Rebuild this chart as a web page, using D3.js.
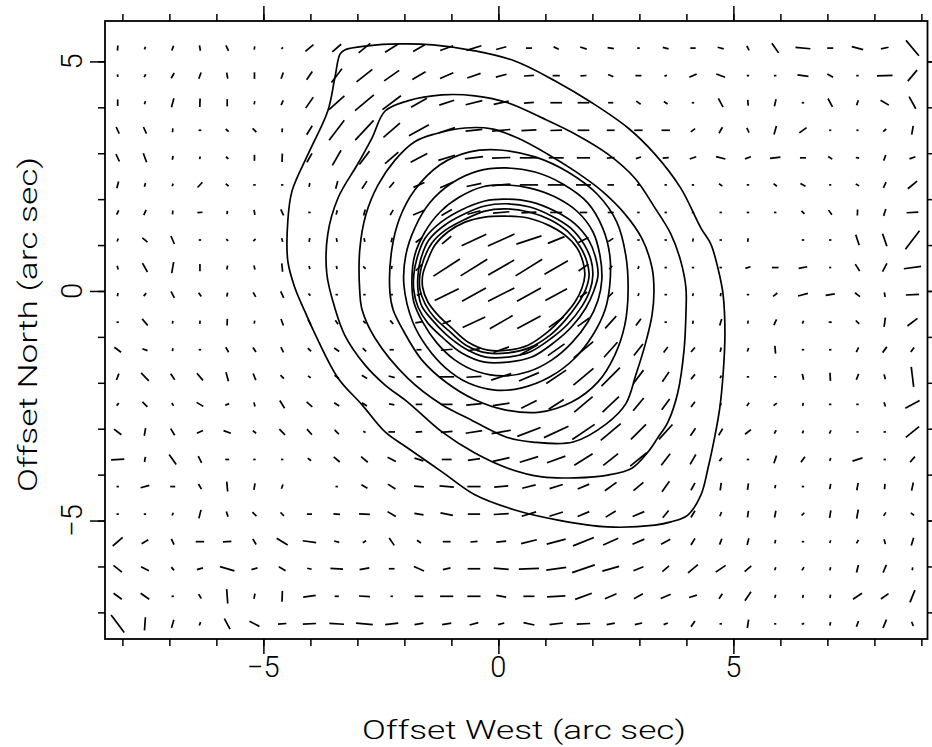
<!DOCTYPE html>
<html>
<head>
<meta charset="utf-8">
<script src="https://cdn.jsdelivr.net/npm/d3@7"></script>
<style>
  html, body { margin: 0; padding: 0; background: #fff; }
  svg { display: block; }
  text { font-family: Roboto, "Liberation Sans", sans-serif; font-weight: 300; fill: #000; }
</style>
</head>
<body>
<svg id="chart" width="932" height="747"></svg>
<script>
// sampling grid of the polarisation map (arc sec)
const colOffsets = [-8.10, -7.52, -6.93, -6.35, -5.77, -5.19, -4.60, -4.02, -3.44, -2.85,
  -2.27, -1.69, -1.10, -0.52, 0.06, 0.65, 1.23, 1.81, 2.39, 2.98,
  3.56, 4.14, 4.73, 5.31, 5.89, 6.48, 7.06, 7.64, 8.22, 8.81];
const rowOffsets = [5.29, 4.69, 4.10, 3.50, 2.90, 2.31, 1.71, 1.11, 0.51, -0.08, -0.68,
  -1.28, -1.87, -2.47, -3.07, -3.67, -4.26, -4.86, -5.46, -6.05, -6.65, -7.25];

// vector angle on the sky (deg, counter-clockwise from West axis), one row per rowOffset
const polAngle = [
  [85,70,70,-80,-65,80,45,40,41,39,32,30,20,17,15,0,-25,-18,-10,0,-15,0,-15,-65,-55,-5,0,-15,12,-50],
  [-80,60,60,70,-80,90,70,55,53,38,35,30,23,19,15,4,0,3,-25,0,20,25,-20,0,0,-7,-30,0,2,50],
  [90,75,75,88,90,80,65,55,42,40,37,30,18,14,12,5,0,0,0,-35,-35,0,-62,-85,77,0,-62,72,-30,-61],
  [-65,-65,85,0,-40,-45,85,58,53,47,41,29,18,6,5,3,2,0,0,0,0,37,60,-65,74,36,0,0,40,80],
  [-65,-70,80,75,-40,90,88,60,60,53,41,28,17,7,2,0,0,0,5,18,5,19,-14,20,7,0,-33,-10,70,20],
  [75,75,70,47,-40,0,0,80,75,57,50,24,23,12,5,0,0,0,0,0,0,0,-35,0,-38,-28,0,-30,65,40],
  [65,65,85,5,85,-80,-65,0,75,75,60,23,30,15,5,3,0,0,0,0,0,0,0,0,0,-45,-55,88,72,3],
  [70,-40,-67,0,-45,45,-75,80,-80,-80,75,37,40,25,24,18,22,27,33,0,0,80,0,80,0,0,0,-72,-71,53],
  [-75,-61,80,90,80,-75,-85,-75,-80,-45,80,45,33,32,30,32,30,35,50,70,0,0,0,18,0,11,0,-57,62,8],
  [80,50,-63,-55,80,-60,-65,-45,0,0,0,20,26,29,27,29,28,35,45,70,0,75,80,0,38,15,10,-38,-80,3],
  [0,-50,80,85,88,80,-70,-62,-55,-45,-50,10,20,25,30,28,35,35,48,53,0,80,73,80,65,70,0,-45,82,37],
  [-37,-20,80,0,-60,-55,-63,-42,-34,-45,0,0,5,10,20,30,35,40,48,52,53,50,78,70,-85,0,0,65,53,55],
  [70,-46,-56,-50,-75,-68,-45,-37,-37,-32,-15,0,0,3,18,23,34,40,45,53,56,51,70,0,0,-78,-87,68,-75,-83],
  [50,-45,-55,-31,22,-75,-58,-41,-34,-34,-10,0,0,6,9,27,33,40,43,50,54,53,75,55,38,80,0,0,-72,28],
  [-38,80,-59,24,-20,-38,-45,-48,-45,-30,0,5,5,9,10,21,25,34,40,45,48,56,59,38,60,70,63,0,0,39],
  [3,80,-55,-63,0,0,0,-38,-40,-40,-27,-17,0,8,13,17,20,32,38,39,52,60,51,0,71,55,70,18,0,49],
  [0,15,0,-60,-85,80,70,0,0,-30,-33,-4,-5,0,5,14,17,23,36,40,55,61,82,82,75,0,80,80,85,78],
  [0,0,70,76,-72,-45,-45,0,-5,-3,-31,-10,-11,0,3,17,18,23,31,23,51,59,69,82,79,45,80,80,57,-38],
  [41,31,-65,0,4,-60,-31,-8,-15,31,-56,-34,0,5,6,14,15,22,24,23,28,59,69,76,80,0,70,60,-75,73],
  [-39,-28,-50,15,-16,15,-31,-12,-3,10,0,-25,12,0,-5,2,8,19,16,22,40,40,34,40,70,60,75,76,67,80],
  [-36,-35,0,-58,-86,80,88,8,0,-3,0,0,0,0,-10,0,3,20,23,29,23,17,56,56,75,80,80,34,35,68],
  [-53,86,74,70,-62,-27,5,3,-3,-5,6,10,10,15,15,-12,7,3,11,13,21,55,0,81,0,20,80,70,68,-69]
];

// degree of polarisation (%), same layout
const polPercent = [
  [1.7,0.9,1.7,1.8,2.0,1.1,0.7,3.5,3.9,5.0,5.2,4.5,4.6,5.2,3.5,2.0,1.9,2.3,2.1,0.9,2.0,1.8,2.1,1.7,3.9,5.0,2.0,3.9,2.6,6.7],
  [0.9,1.1,2.0,2.2,2.0,2.2,2.2,3.3,5.8,6.7,6.1,5.1,4.8,4.7,3.7,3.3,2.4,2.0,1.9,2.0,0.9,2.7,3.1,0.8,0.8,3.7,2.2,0.8,5.2,4.8],
  [2.2,1.1,3.1,2.8,2.4,1.1,1.7,4.4,6.9,8.2,7.7,6.1,5.2,5.7,5.1,3.3,3.9,3.9,1.7,1.8,1.5,0.8,3.3,1.9,2.4,0.8,3.2,1.8,3.2,4.6],
  [2.4,2.4,1.3,0.9,1.3,1.8,1.3,3.5,8.4,9.0,7.3,7.6,5.8,5.6,6.1,5.0,3.9,3.9,2.6,2.8,2.8,1.8,2.3,1.8,2.9,3.0,0.7,0.7,1.3,3.0],
  [2.7,3.2,1.3,0.9,1.1,2.0,2.8,3.4,5.8,5.6,5.9,6.3,5.8,6.1,6.1,6.1,5.0,4.4,2.6,1.8,2.0,2.3,3.2,2.1,3.5,2.0,1.6,1.1,2.0,2.1],
  [2.3,1.3,0.9,2.4,1.2,0.8,0.8,1.3,2.7,3.0,2.5,4.0,4.8,5.0,6.1,6.1,5.6,5.0,2.2,1.0,0.8,0.8,1.4,0.8,1.4,1.9,0.7,1.3,2.1,4.0],
  [1.6,1.9,1.3,1.7,1.1,1.7,2.2,0.8,1.5,2.1,2.0,4.2,4.0,4.5,5.5,5.0,4.0,2.5,2.0,0.8,0.8,0.8,0.8,0.8,0.8,1.4,1.9,2.0,2.4,3.9],
  [1.1,2.2,2.9,0.8,0.9,1.0,1.3,1.3,1.3,1.3,1.5,2.8,4.0,9.1,9.7,8.8,6.0,3.8,2.0,0.8,0.8,1.1,0.8,1.2,0,0.8,0.8,3.7,4.4,7.8],
  [1.3,3.4,3.7,2.4,1.3,1.4,2.8,1.1,1.1,1.2,1.1,3.0,10.5,10.5,10.0,10.5,9.0,4.0,1.5,1.0,0.8,0.8,0.8,1.8,2.2,2.9,0.7,2.7,3.1,5.8],
  [1.1,1.3,2.5,1.6,1.3,1.7,2.4,0.9,0.8,0.8,0.8,1.5,8.9,9.1,9.8,9.1,8.2,3.0,2.2,1.0,0.8,0.9,1.1,0.8,1.8,3.4,3.1,2.1,1.6,4.4],
  [0.8,2.9,0.9,1.1,2.2,1.0,2.3,2.1,1.6,1.2,1.6,2.5,3.0,8.3,8.8,8.8,6.0,4.8,5.5,2.8,0.8,1.1,2.3,1.0,2.1,1.0,1.0,1.6,3.1,4.2],
  [2.8,1.8,1.0,0.8,1.9,1.8,1.9,1.5,2.0,1.6,1.4,1.7,3.9,4.0,5.5,7.1,6.8,8.5,6.7,4.9,2.3,2.0,1.5,1.2,2.6,0.8,0.8,1.8,2.4,1.9],
  [2.3,3.7,2.4,3.1,3.1,2.4,1.6,1.1,1.8,2.1,2.1,1.7,5.0,5.0,7.0,7.2,8.0,8.7,8.7,5.6,4.0,2.1,1.0,0.8,0.8,2.0,2.7,2.1,1.7,6.7],
  [1.1,2.3,1.1,2.6,1.4,1.4,3.0,2.5,2.0,2.0,1.8,2.2,3.9,5.2,5.6,5.8,6.0,8.0,7.5,5.5,4.5,2.2,0.9,1.3,1.4,1.0,0.8,0.8,1.5,5.4],
  [3.1,2.6,2.6,2.2,2.6,1.4,2.7,2.5,2.0,0.9,2.2,2.2,3.9,5.6,6.5,8.3,9.0,9.0,8.7,7.1,6.7,3.0,2.6,2.5,1.3,1.0,1.2,0.7,0.8,5.7],
  [4.4,1.7,4.1,2.5,1.3,0.8,0.8,1.4,2.6,2.9,3.1,3.1,3.3,4.1,5.7,6.4,6.5,7.2,6.3,7.1,4.8,3.8,1.4,0.8,2.7,2.3,1.0,3.5,0.8,2.5],
  [0.8,3.0,1.7,2.0,3.3,2.2,1.5,0,0.8,2.3,3.0,3.3,4.8,4.4,4.7,4.6,4.6,4.2,4.8,4.3,4.3,2.8,2.5,2.2,1.1,0.8,1.8,2.5,1.8,2.8],
  [0.8,0.8,1.0,2.9,1.8,1.9,1.6,1.7,2.2,3.6,3.2,3.1,4.2,4.1,5.0,5.0,4.7,4.2,3.9,4.2,3.1,2.6,1.5,2.2,2.3,1.3,2.5,3.0,1.4,1.4],
  [4.4,2.6,2.1,2.8,2.8,2.2,4.3,4.5,1.7,1.3,3.0,1.6,2.6,2.4,3.3,5.4,6.5,7.5,5.5,4.3,3.5,2.6,2.1,2.3,1.2,0.8,1.0,1.3,1.7,2.7],
  [3.6,2.9,1.4,2.1,5.0,2.1,2.6,1.5,4.2,3.3,1.9,3.7,2.6,4.2,5.0,6.7,6.7,8.0,5.8,3.6,2.9,4.3,4.0,2.9,1.1,1.3,1.1,2.6,2.8,1.0],
  [3.4,3.5,0.8,1.7,4.8,1.8,3.6,4.2,1.4,3.7,0.8,2.9,4.4,4.4,3.3,3.7,6.1,5.9,4.2,3.4,3.6,2.7,2.0,3.6,1.1,1.0,1.2,3.6,3.1,4.4],
  [7.3,4.4,2.8,1.2,4.0,3.7,2.8,4.4,4.9,5.6,4.4,3.0,3.1,3.0,2.1,3.7,4.5,4.5,2.8,2.5,1.5,2.3,0.8,2.8,0.7,0.9,1.2,2.0,3.0,1.5]
];

// intensity contours, outermost first, [offset West, offset North] in arc sec
const contour1 = [[-3.37,5.16],[-3.27,5.25],[-2.78,5.34],[-2.10,5.38],[-1.39,5.36],[-0.50,5.23],[0.35,5.01],[1.20,4.58],[1.99,4.10],[2.76,3.55],[3.33,2.98],[3.88,2.24],[4.31,1.37],[4.52,1.02],[4.67,0.50],[4.78,-0.07],[4.82,-0.94],[4.78,-1.83],[4.71,-2.55],[4.61,-3.14],[4.46,-3.86],[4.31,-4.44],[4.03,-4.88],[3.67,-5.03],[3.33,-5.10],[2.33,-5.14],[1.27,-4.99],[0.35,-4.77],[-0.50,-4.44],[-1.20,-3.94],[-1.93,-3.42],[-2.41,-3.07],[-2.90,-2.48],[-3.41,-1.90],[-3.90,-0.94],[-4.12,-0.44],[-4.33,0.07],[-4.48,0.65],[-4.48,1.53],[-4.39,2.18],[-4.05,2.98],[-3.63,3.92],[-3.48,4.64]];
const contour2 = [[-2.41,3.92],[-1.93,4.14],[-1.20,4.27],[-0.50,4.25],[0.20,4.10],[0.93,3.77],[1.63,3.42],[2.33,2.98],[2.90,2.46],[3.33,1.81],[3.67,1.24],[3.88,0.65],[3.99,0.07],[3.99,-0.50],[3.95,-1.29],[3.82,-2.20],[3.61,-2.85],[3.39,-3.20],[3.18,-3.51],[2.84,-3.86],[2.33,-4.01],[1.63,-4.07],[0.93,-4.05],[0.20,-3.86],[-0.50,-3.53],[-1.20,-3.07],[-1.93,-2.42],[-2.41,-2.05],[-2.84,-1.61],[-3.27,-0.96],[-3.48,-0.37],[-3.65,0.37],[-3.63,1.24],[-3.41,2.03],[-2.99,2.77],[-2.69,3.33]];
const contour3 = [[-1.35,3.42],[-0.71,3.55],[-0.14,3.53],[0.41,3.33],[1.05,2.98],[1.63,2.61],[2.20,2.18],[2.69,1.68],[3.05,1.15],[3.27,0.50],[3.31,0.00],[3.27,-0.52],[3.12,-1.18],[2.93,-1.81],[2.71,-2.46],[2.29,-2.90],[1.59,-3.29],[0.73,-3.29],[0.16,-3.18],[-0.69,-2.75],[-1.20,-2.48],[-1.93,-1.90],[-2.63,-1.02],[-2.90,-0.41],[-2.95,0.00],[-2.95,0.89],[-2.82,1.66],[-2.56,2.31],[-2.20,2.85],[-1.78,3.25]];
const contour4 = [[-2.31,0.00],[-2.27,0.89],[-2.10,1.59],[-1.78,2.20],[-1.24,2.75],[-0.61,3.03],[0.03,3.07],[0.78,2.92],[1.48,2.59],[2.12,2.09],[2.52,1.50],[2.71,0.78],[2.76,0.00],[2.69,-0.74],[2.48,-1.39],[2.12,-1.98],[1.56,-2.42],[0.88,-2.64],[0.14,-2.59],[-0.50,-2.37],[-1.10,-2.00],[-1.63,-1.50],[-2.03,-0.85],[-2.24,-0.41]];
const contour5 = [[-2.01,0.13],[-1.97,0.78],[-1.78,1.37],[-1.46,1.92],[-0.99,2.35],[-0.44,2.61],[0.14,2.68],[0.78,2.59],[1.37,2.33],[1.90,1.92],[2.22,1.37],[2.37,0.78],[2.37,0.13],[2.27,-0.41],[2.01,-0.96],[1.63,-1.46],[1.10,-1.87],[0.50,-2.11],[-0.07,-2.16],[-0.65,-2.00],[-1.12,-1.68],[-1.52,-1.22],[-1.82,-0.68]];
const contour6 = [[-1.84,0.24],[-1.78,0.78],[-1.56,1.29],[-1.24,1.72],[-0.82,2.05],[-0.33,2.27],[0.14,2.31],[0.67,2.24],[1.20,2.05],[1.69,1.72],[2.01,1.29],[2.16,0.78],[2.20,0.24],[2.12,-0.20],[1.90,-0.68],[1.56,-1.13],[1.14,-1.50],[0.63,-1.76],[0.10,-1.85],[-0.44,-1.76],[-0.93,-1.50],[-1.31,-1.13],[-1.61,-0.68],[-1.80,-0.24]];
const contour7 = [[-1.80,0.35],[-1.73,0.72],[-1.56,1.15],[-1.22,1.50],[-0.80,1.76],[-0.29,1.96],[0.14,2.00],[0.69,1.94],[1.20,1.74],[1.63,1.46],[1.93,1.09],[2.07,0.72],[2.12,0.35],[2.03,0.00],[1.86,-0.37],[1.56,-0.78],[1.20,-1.11],[0.71,-1.44],[0.20,-1.55],[-0.29,-1.55],[-0.78,-1.35],[-1.18,-1.02],[-1.50,-0.70],[-1.71,-0.35],[-1.80,0.02]];
const contour8 = [[-1.71,0.35],[-1.65,0.70],[-1.48,1.11],[-1.16,1.42],[-0.76,1.66],[-0.29,1.85],[0.14,1.90],[0.67,1.83],[1.14,1.63],[1.54,1.37],[1.82,1.02],[1.97,0.68],[2.01,0.35],[1.95,0.02],[1.78,-0.33],[1.48,-0.72],[1.14,-1.02],[0.67,-1.33],[0.20,-1.44],[-0.27,-1.44],[-0.73,-1.24],[-1.12,-0.94],[-1.41,-0.63],[-1.63,-0.33],[-1.71,0.02]];
const contour9 = [[-1.67,0.35],[-1.59,0.68],[-1.41,1.05],[-1.12,1.33],[-0.73,1.55],[-0.29,1.74],[0.14,1.79],[0.65,1.72],[1.10,1.55],[1.48,1.29],[1.73,0.98],[1.88,0.65],[1.93,0.35],[1.86,0.04],[1.69,-0.28],[1.41,-0.65],[1.10,-0.96],[0.65,-1.24],[0.20,-1.35],[-0.24,-1.35],[-0.69,-1.18],[-1.05,-0.87],[-1.35,-0.59],[-1.56,-0.28],[-1.67,0.04]];
const contour10 = [[-1.61,0.35],[-1.52,0.63],[-1.35,1.00],[-1.07,1.29],[-0.71,1.50],[-0.29,1.61],[0.14,1.63],[0.63,1.59],[1.05,1.44],[1.41,1.22],[1.67,0.94],[1.80,0.63],[1.84,0.35],[1.78,0.07],[1.63,-0.24],[1.35,-0.59],[1.05,-0.89],[0.63,-1.18],[0.20,-1.29],[-0.22,-1.29],[-0.65,-1.11],[-0.99,-0.81],[-1.29,-0.52],[-1.50,-0.24],[-1.61,0.07]];
const contours = [contour1, contour2, contour3, contour4, contour5, contour6, contour7, contour8, contour9, contour10];

// axis ticks and labels
const xMinorTicks = [-8, -7, -6, -5, -4, -3, -2, -1, 0, 1, 2, 3, 4, 5, 6, 7, 8, 9];
const yMinorTicks = [-7, -6, -5, -4, -3, -2, -1, 0, 1, 2, 3, 4, 5];
const majorTicks = [-5, 0, 5];
const xTitle = "Offset West (arc sec)";
const yTitle = "Offset North (arc sec)";

///////////////////////////////////////////////////////////////

const svg = d3.select("#chart");
const plotLeft = 105, plotRight = 927.5, plotTop = 21, plotBottom = 639;

const x = d3.scaleLinear().domain([-8.37, 9.13]).range([plotLeft, plotRight]);
const y = d3.scaleLinear().domain([-7.58, 5.88]).range([plotBottom, plotTop]);
const len = d3.scaleLinear().domain([0, 10]).range([0, 30]);

// vectors
const vectors = [];
rowOffsets.forEach((yo, j) => {
  colOffsets.forEach((xo, i) => {
    vectors.push({ x: xo, y: yo, a: polAngle[j][i], p: polPercent[j][i] });
  });
});

const rad = d => d.a * Math.PI / 180;
svg.append("g")
  .attr("stroke", "#000")
  .attr("stroke-width", 1.7)
  .selectAll("line")
  .data(vectors.filter(d => d.p > 0))
  .join("line")
  .attr("x1", d => x(d.x) - Math.cos(rad(d)) * len(d.p) / 2)
  .attr("y1", d => y(d.y) + Math.sin(rad(d)) * len(d.p) / 2)
  .attr("x2", d => x(d.x) + Math.cos(rad(d)) * len(d.p) / 2)
  .attr("y2", d => y(d.y) - Math.sin(rad(d)) * len(d.p) / 2);

// contours
const line = d3.line()
  .x(d => x(d[0]))
  .y(d => y(d[1]))
  .curve(d3.curveCatmullRomClosed.alpha(0.5));

svg.append("g")
  .attr("fill", "none")
  .attr("stroke", "#000")
  .attr("stroke-width", 1.7)
  .selectAll("path")
  .data(contours)
  .join("path")
  .attr("d", line);

// frame and ticks
function ticks(axis, values, size, tx, ty) {
  svg.append("g")
    .attr("transform", `translate(${tx},${ty})`)
    .call(axis.tickValues(values).tickSize(size).tickFormat(""))
    .call(g => g.select(".domain").remove())
    .call(g => g.selectAll(".tick line").attr("stroke", "#000").attr("stroke-width", 1.5));
}
ticks(d3.axisBottom(x), xMinorTicks, 7, 0, plotBottom);
ticks(d3.axisBottom(x), majorTicks, 15, 0, plotBottom);
ticks(d3.axisTop(x), xMinorTicks, 7, 0, plotTop);
ticks(d3.axisTop(x), majorTicks, 15, 0, plotTop);
ticks(d3.axisLeft(y), yMinorTicks, 7, plotLeft, 0);
ticks(d3.axisLeft(y), majorTicks, 15, plotLeft, 0);
ticks(d3.axisRight(y), yMinorTicks, 7, plotRight, 0);
ticks(d3.axisRight(y), majorTicks, 15, plotRight, 0);

svg.append("rect")
  .attr("x", plotLeft).attr("y", plotTop)
  .attr("width", plotRight - plotLeft).attr("height", plotBottom - plotTop)
  .attr("fill", "none").attr("stroke", "#000").attr("stroke-width", 1.8);

const fmt = d => d < 0 ? "\u2212" + Math.abs(d) : String(d);

svg.append("g").selectAll("text")
  .data(majorTicks)
  .join("text")
  .attr("x", d => x(d))
  .attr("y", 677)
  .attr("text-anchor", "middle")
  .attr("font-size", 29)
  .text(fmt);

svg.append("g").selectAll("text")
  .data(majorTicks)
  .join("text")
  .attr("transform", d => `translate(82,${y(d)}) rotate(-90)`)
  .attr("text-anchor", "middle")
  .attr("font-size", 29)
  .text(fmt);

svg.append("text")
  .attr("x", 524).attr("y", 739)
  .attr("text-anchor", "middle")
  .attr("font-size", 25)
  .attr("textLength", 324)
  .attr("lengthAdjust", "spacingAndGlyphs")
  .text(xTitle);

svg.append("text")
  .attr("transform", "translate(37,324.5) rotate(-90)")
  .attr("text-anchor", "middle")
  .attr("font-size", 25)
  .attr("textLength", 335)
  .attr("lengthAdjust", "spacingAndGlyphs")
  .text(yTitle);
</script>
</body>
</html>
